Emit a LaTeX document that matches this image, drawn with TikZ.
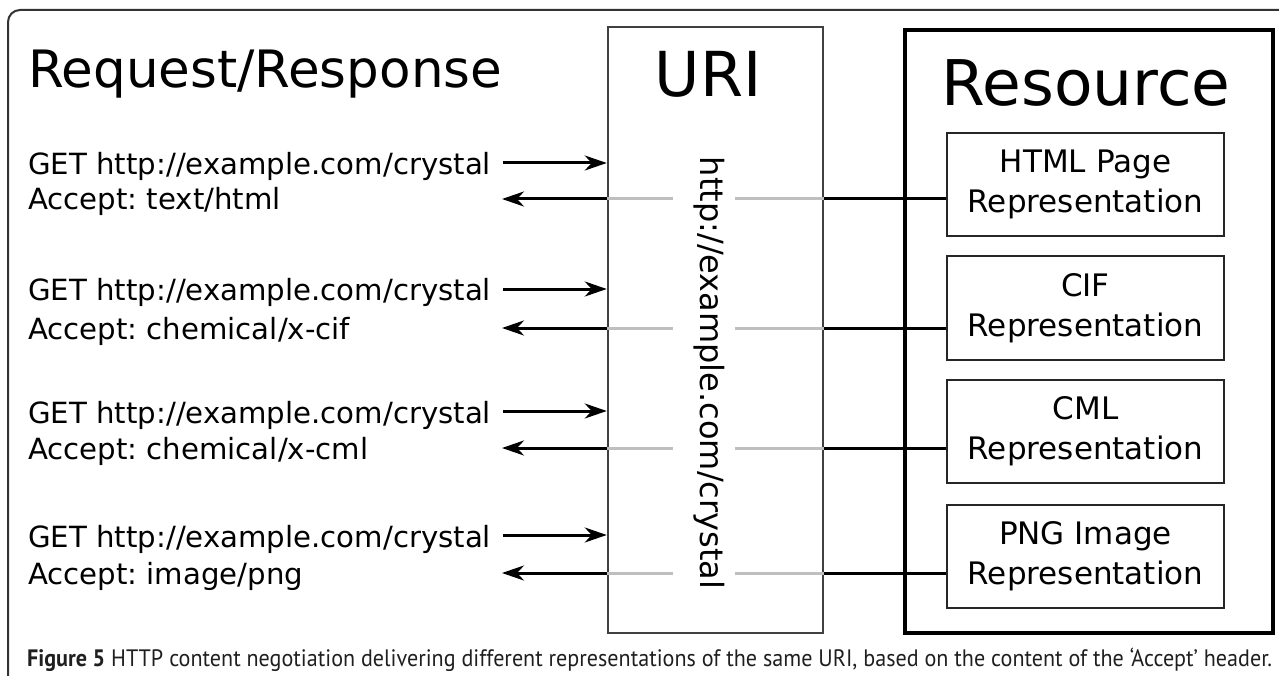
\documentclass[tikz,border=0pt]{standalone}
\usepackage{fontspec}
\setmainfont{DejaVu Sans}
\newfontfamily\capfont{PT Sans}[FakeStretch=0.93]
\usetikzlibrary{arrows.meta}
\frenchspacing
\begin{document}
\begin{tikzpicture}[x=1pt,y=-1pt,
  lbl/.style={anchor=base west, inner sep=0pt, font=\fontsize{29.2}{35}\selectfont},
  req/.style={line width=3pt, -{Stealth[length=22pt,width=15pt,inset=7pt]}},
  resp/.style={line width=3pt},
  faint/.style={line width=3pt, draw=black!25},
  repbox/.style={draw=black!85, line width=2pt, minimum width=277pt, minimum height=103pt, align=center, font=\fontsize{31}{40}\selectfont, inner sep=0pt}]
\useasboundingbox (0,0) rectangle (1279,676);
\draw[line width=2pt, black!80, rounded corners=12pt] (8,676) -- (8,10) -- (1279,10);
% boxes
\node[draw=black!75, line width=2.5pt, minimum width=215pt, minimum height=606pt, inner sep=0pt] (uri) at (715.5,330) {};
\node[draw, line width=3.5pt, minimum width=368pt, minimum height=603pt, inner sep=0pt] (res) at (1089,331.5) {};
\node[repbox] (html) at (1085.5,184.5) {HTML Page\\Representation};
\node[repbox] (cif) at (1085.5,308) {CIF\\Representation};
\node[repbox] (cml) at (1085.5,431) {CML\\Representation};
\node[repbox] (png) at (1085.5,556.5) {PNG Image\\Representation};
% titles
\node[anchor=base west, inner sep=0pt, font=\fontsize{51.5}{60}\selectfont] (rr) at (28,88) {Request/Response};
\node[anchor=base, inner sep=0pt, font=\fontsize{62}{70}\selectfont] (urit) at (708,97) {URI};
\node[anchor=base, inner sep=0pt, font=\fontsize{63}{70}\selectfont] (rest) at (1086,106) {Resource};
\node[rotate=-90, inner sep=0pt, font=\fontsize{32}{38}\selectfont] (url) at (709,373) {http://example.com/crystal};
% rows
\foreach \n/\ry/\ly/\acc/\bx in {1/163/199/{text/html}/html, 2/289/328/{chemical/x-cif}/cif, 3/411/448/{chemical/x-cml}/cml, 4/535/573/{image/png}/png}{
  \node[lbl] (get\n) at (28,\ry+12) {GET http://example.com/crystal};
  \node[lbl] (acc\n) at (28,\ly+11) {Accept: \acc};
  \coordinate (rs\n) at (503,\ry);
  \coordinate (lt\n) at (502,\ly);
  \draw[req] (rs\n) -- (rs\n -| uri.west);
  \draw[resp] (\bx.west |- lt\n) -- (uri.east |- lt\n);
  \draw[faint] (uri.east |- lt\n) -- ++(-89,0);
  \draw[faint] (uri.west |- lt\n) -- ++(66,0);
  \draw[req] (uri.west |- lt\n) -- (lt\n);
}
% caption
\node[anchor=base west, inner sep=0pt, text=black!88] (cap) at (27,666) {\resizebox{1245pt}{!}{\capfont\fontsize{19}{24}\selectfont\textbf{Figure 5} HTTP content negotiation delivering different representations of the same URI, based on the content of the ‘Accept’ header.}};
\end{tikzpicture}
\end{document}
